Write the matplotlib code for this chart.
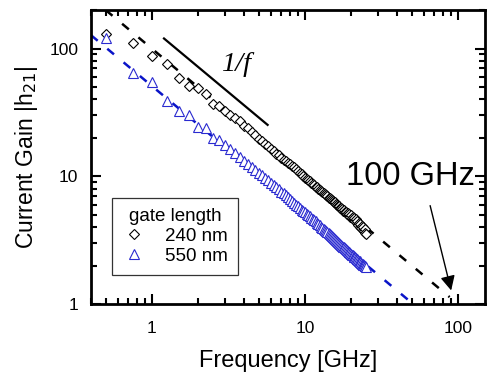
import matplotlib
matplotlib.use("Agg")
import matplotlib.pyplot as plt
from matplotlib.ticker import LogLocator, NullFormatter, FixedLocator, FixedFormatter

plt.rcParams['font.family'] = ['Liberation Sans', 'DejaVu Sans']

# measured data (GHz, |h21|)
freq = [0.5, 0.75, 1.0, 1.25, 1.5, 1.75, 2.0, 2.25, 2.5, 2.75,
        3.0, 3.25, 3.5, 3.75, 4.0, 4.25, 4.5, 4.75, 5.0, 5.25,
        5.5, 5.75, 6.0, 6.25, 6.5, 6.75, 7.0, 7.25, 7.5, 7.75,
        8.0, 8.25, 8.5, 8.75, 9.0, 9.25, 9.5, 9.75, 10.0, 10.25,
        10.5, 10.75, 11.0, 11.25, 11.5, 11.75, 12.0, 12.25, 12.5, 12.75,
        13.0, 13.25, 13.5, 13.75, 14.0, 14.25, 14.5, 14.75, 15.0, 15.25,
        15.5, 15.75, 16.0, 16.25, 16.5, 16.75, 17.0, 17.25, 17.5, 17.75,
        18.0, 18.25, 18.5, 18.75, 19.0, 19.25, 19.5, 19.75, 20.0, 20.25,
        20.5, 20.75, 21.0, 21.25, 21.5, 21.75, 22.0, 22.25, 22.5, 22.75,
        23.0, 23.25, 23.5, 23.75, 24.0, 24.25, 24.5, 24.75, 25.0]

h21_240 = [130, 111, 87, 76, 59, 51, 49, 44, 37, 35.5,
           32.5, 30.5, 28.5, 27, 25, 23.8, 22.3, 20.9, 19.6, 18.8,
           18.0, 17.2, 16.3, 15.8, 15.1, 14.6, 14.0, 13.4, 13.1, 12.7,
           12.4, 12.0, 11.8, 11.5, 11.0, 10.6, 10.4, 10.1, 9.8, 9.5,
           9.3, 9.2, 8.9, 8.7, 8.6, 8.3, 8.2, 8.0, 7.8, 7.7,
           7.5, 7.4, 7.3, 7.1, 7.0, 6.8, 6.75, 6.6, 6.5, 6.4,
           6.3, 6.25, 6.1, 6.0, 5.9, 5.9, 5.7, 5.65, 5.6, 5.4,
           5.45, 5.3, 5.3, 5.1, 5.15, 5.0, 5.05, 4.85, 4.95, 4.7,
           4.85, 4.6, 4.75, 4.45, 4.6, 4.3, 4.5, 4.2, 4.35, 4.05,
           4.25, 3.95, 4.1, 3.8, 4.0, 3.75, 3.9, 3.6, 3.55]

h21_550 = [122, 65, 55, 38.6, 32.3, 30.3, 24.3, 23.8, 19.8, 19.1,
           17.6, 16.4, 15.2, 14.2, 13.3, 12.5, 11.9, 11.2, 10.7, 10.2,
           9.7, 9.3, 8.9, 8.55, 8.2, 7.9, 7.6, 7.35, 7.1, 6.85,
           6.6, 6.4, 6.2, 6.0, 5.85, 5.7, 5.5, 5.4, 5.25, 5.1,
           5.0, 4.9, 4.75, 4.65, 4.55, 4.45, 4.35, 4.25, 4.15, 4.05,
           3.98, 3.9, 3.82, 3.75, 3.67, 3.6, 3.53, 3.47, 3.4, 3.34,
           3.28, 3.22, 3.17, 3.12, 3.06, 3.01, 2.96, 2.92, 2.87, 2.82,
           2.78, 2.74, 2.7, 2.66, 2.62, 2.58, 2.55, 2.51, 2.48, 2.44,
           2.41, 2.38, 2.35, 2.32, 2.29, 2.26, 2.24, 2.21, 2.18, 2.16,
           2.13, 2.11, 2.08, 2.06, 2.04, 2.02, 2.0, 1.98, 1.96]

# extrapolation lines (1/f fits)
fit240_f = [0.5, 88]
fit240_h = [200, 1.136]
fit550_f = [0.4, 51]
fit550_h = [127.5, 1.0]
guide_f = [1.2, 5.7]
guide_h = [120, 25.3]

fig = plt.figure(figsize=(4.97, 3.76), dpi=100)
ax = fig.add_axes([0.183, 0.191, 0.793, 0.782])

ax.plot(fit240_f, fit240_h, color='black', lw=1.8, dashes=(3.5, 5))
ax.plot(fit550_f, fit550_h, color='#0a14c8', lw=1.8, dashes=(3.5, 5))
ax.plot(guide_f, guide_h, color='black', lw=1.6)

ax.plot(freq, h21_240, linestyle='none', marker='D', markersize=5.3,
        mfc='white', mec='black', mew=0.8, label='240 nm')
ax.plot(freq, h21_550, linestyle='none', marker='^', markersize=6.8,
        mfc='white', mec='#2a2ad0', mew=0.8, label='550 nm')

ax.set_xscale('log')
ax.set_yscale('log')
ax.set_xlim(0.4, 150)
ax.set_ylim(1, 200)

ax.xaxis.set_major_locator(FixedLocator([1, 10, 100]))
ax.xaxis.set_major_formatter(FixedFormatter(['1', '10', '100']))
ax.yaxis.set_major_locator(FixedLocator([1, 10, 100]))
ax.yaxis.set_major_formatter(FixedFormatter(['1', '10', '100']))
ax.xaxis.set_minor_locator(LogLocator(base=10, subs=range(2, 10)))
ax.yaxis.set_minor_locator(LogLocator(base=10, subs=range(2, 10)))
ax.xaxis.set_minor_formatter(NullFormatter())
ax.yaxis.set_minor_formatter(NullFormatter())

ax.tick_params(which='both', direction='in', top=True, right=True,
               width=1.5, labelsize=12.5)
ax.tick_params(axis='x', which='major', length=7, pad=12)
ax.tick_params(axis='y', which='major', length=7, pad=9)
ax.tick_params(which='minor', length=4)
for s in ax.spines.values():
    s.set_linewidth(2)

ax.set_xlabel('Frequency [GHz]', fontsize=17, labelpad=10)
ax.set_ylabel('Current Gain |h$_{21}$|', fontsize=16.5, labelpad=7)

ax.text(2.85, 67, '1/f', fontsize=20.5, fontstyle='italic',
        family='Liberation Serif', va='baseline')
ax.text(18.5, 8.5, '100 GHz', fontsize=23.5, va='baseline')
ax.annotate('', xy=(91, 1.22), xytext=(65, 6.2),
            arrowprops=dict(arrowstyle='-|>', color='black', lw=1,
                            mutation_scale=22))

leg = ax.legend(title='gate length', loc='lower left',
                bbox_to_anchor=(0.053, 0.099), borderaxespad=0,
                fontsize=13.5, title_fontsize=13.5, fancybox=False,
                edgecolor='black', handletextpad=1.0, handlelength=1.3,
                borderpad=0.55, labelspacing=0.15, markerscale=1.0)
leg.get_frame().set_linewidth(0.9)

fig.savefig('out.png', dpi=100)
